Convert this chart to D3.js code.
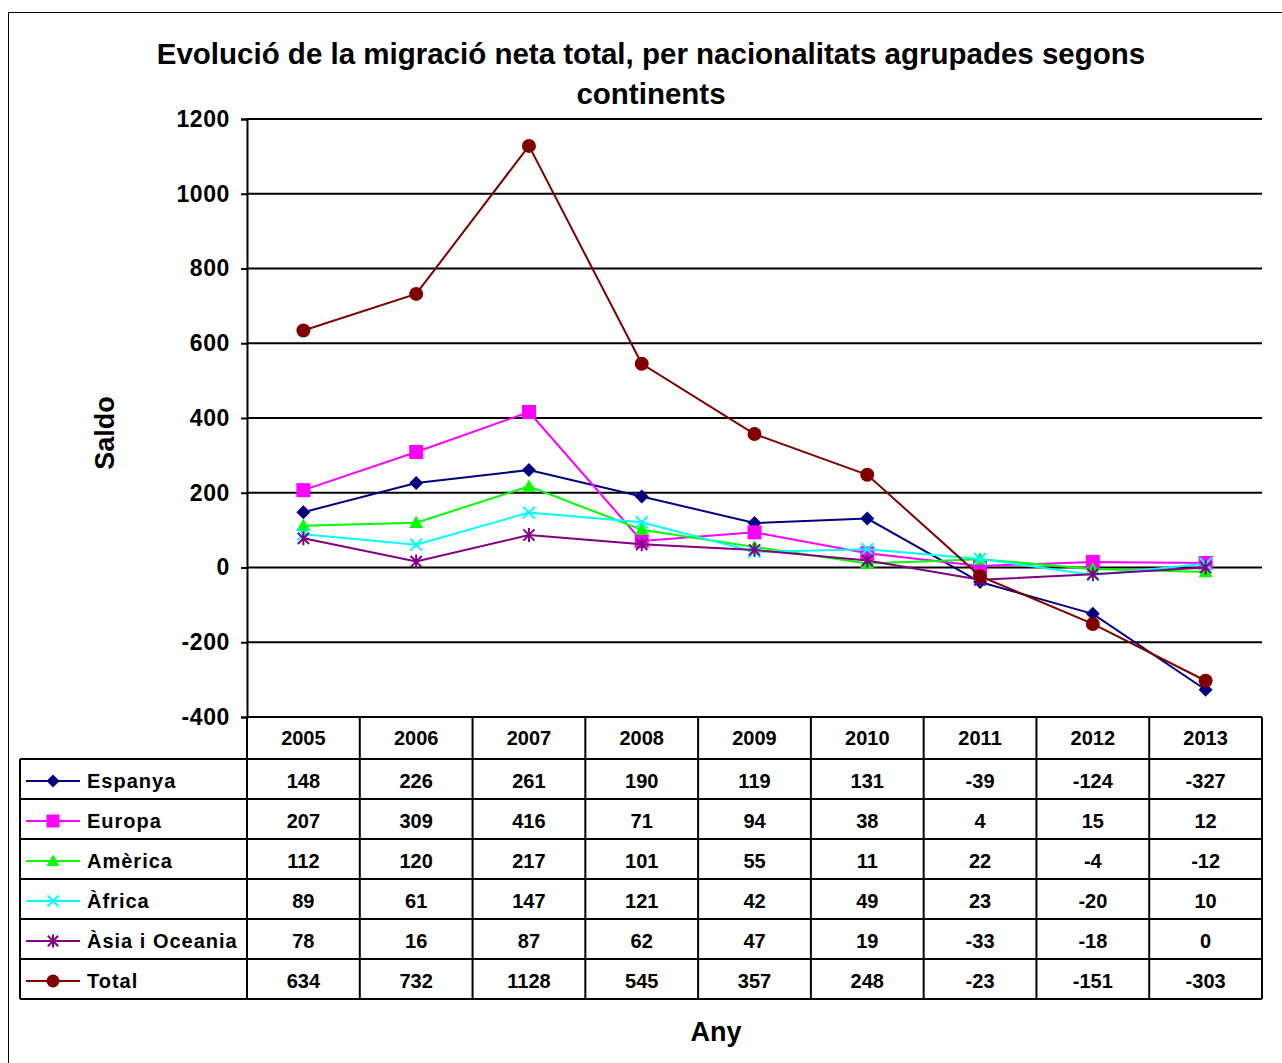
<!DOCTYPE html>
<html>
<head>
<meta charset="utf-8">
<script src="https://cdn.jsdelivr.net/npm/d3@7"></script>
<style>
  body { margin: 0; background: #fff; }
  svg text { font-family: 'Liberation Sans', Arial, sans-serif; font-weight: bold; fill: #000; }
</style>
</head>
<body>
<div id="chart"></div>
<script>
let years = ['2005', '2006', '2007', '2008', '2009', '2010', '2011', '2012', '2013']
let seriesNames = ['Espanya', 'Europa', 'Amèrica', 'Àfrica', 'Àsia i Oceania', 'Total']
let espanya = [148, 226, 261, 190, 119, 131, -39, -124, -327]
let europa = [207, 309, 416, 71, 94, 38, 4, 15, 12]
let america = [112, 120, 217, 101, 55, 11, 22, -4, -12]
let africa = [89, 61, 147, 121, 42, 49, 23, -20, 10]
let asia = [78, 16, 87, 62, 47, 19, -33, -18, 0]
let total = [634, 732, 1128, 545, 357, 248, -23, -151, -303]
let yTicks = [-400, -200, 0, 200, 400, 600, 800, 1000, 1200]

let colors = ['#000080', '#ff00ff', '#00ff00', '#00ffff', '#800080', '#800000']
let markers = ['diamond', 'square', 'triangle', 'x', 'star', 'circle']

let series = [espanya, europa, america, africa, asia, total].map((values, i) => {
  return { name: seriesNames[i], values: values, color: colors[i], marker: markers[i] }
})

let width = 1282
let height = 1063
let plot = { left: 247, right: 1262, top: 119, bottom: 717 }
let legendLeft = 20
let headerBottom = 759
let rowHeight = 40

let svg = d3
  .select('#chart')
  .append('svg')
  .attr('width', width)
  .attr('height', height)

// outer frame
svg
  .append('rect')
  .attr('x', 8.5)
  .attr('y', 12.5)
  .attr('width', 1300)
  .attr('height', 1100)
  .attr('fill', 'none')
  .attr('stroke', '#000')
  .attr('stroke-width', 1)

let xBand = d3.scaleBand().domain(years).range([plot.left, plot.right])
let xPositionScale = d => xBand(d) + xBand.bandwidth() / 2
let yPositionScale = d3.scaleLinear().domain([-400, 1200]).range([plot.bottom, plot.top])

// title
let titleLines = ['Evolució de la migració neta total, per nacionalitats agrupades segons', 'continents']
svg
  .selectAll('.title')
  .data(titleLines)
  .enter()
  .append('text')
  .attr('class', 'title')
  .attr('x', 651)
  .attr('y', (d, i) => 64 + i * 40)
  .attr('text-anchor', 'middle')
  .attr('font-size', 29.5)
  .text(d => d)

// gridlines
svg
  .append('g')
  .selectAll('line')
  .data(yTicks.filter(d => d > -400))
  .enter()
  .append('line')
  .attr('x1', plot.left)
  .attr('x2', plot.right)
  .attr('y1', d => yPositionScale(d))
  .attr('y2', d => yPositionScale(d))
  .attr('stroke', '#000')
  .attr('stroke-width', 2)

// y axis
let yAxis = d3
  .axisLeft(yPositionScale)
  .tickValues(yTicks)
  .tickFormat(d => String(d))
  .tickSize(6)
  .tickPadding(11)
let yAxisG = svg
  .append('g')
  .attr('class', 'axis y-axis')
  .attr('transform', 'translate(' + plot.left + ',0)')
  .call(yAxis)
yAxisG.select('.domain').attr('stroke-width', 2)
yAxisG.selectAll('.tick line').attr('stroke-width', 2)
yAxisG
  .selectAll('.tick text')
  .attr('font-size', 23)
  .attr('letter-spacing', 0.6)
  .attr('font-family', null)
  .attr('fill', '#000')

svg
  .append('text')
  .attr('transform', 'translate(114,433) rotate(-90)')
  .attr('text-anchor', 'middle')
  .attr('font-size', 27)
  .text('Saldo')

svg
  .append('text')
  .attr('x', 716)
  .attr('y', 1041)
  .attr('text-anchor', 'middle')
  .attr('font-size', 27)
  .text('Any')

// data table
let table = svg.append('g').attr('class', 'table')
let tableBottom = headerBottom + rowHeight * series.length
let rowY = i => headerBottom + i * rowHeight

table
  .append('line')
  .attr('x1', plot.left).attr('x2', plot.right)
  .attr('y1', plot.bottom).attr('y2', plot.bottom)
  .attr('stroke', '#000').attr('stroke-width', 2)
table
  .selectAll('.hline')
  .data(d3.range(series.length + 1))
  .enter()
  .append('line')
  .attr('class', 'hline')
  .attr('x1', legendLeft)
  .attr('x2', plot.right)
  .attr('y1', d => rowY(d))
  .attr('y2', d => rowY(d))
  .attr('stroke', '#000')
  .attr('stroke-width', 2)

table
  .selectAll('.vline')
  .data(years.concat(['end']))
  .enter()
  .append('line')
  .attr('class', 'vline')
  .attr('x1', d => (d === 'end' ? plot.right : xBand(d)))
  .attr('x2', d => (d === 'end' ? plot.right : xBand(d)))
  .attr('y1', plot.bottom)
  .attr('y2', tableBottom)
  .attr('stroke', '#000')
  .attr('stroke-width', 2)
table
  .append('line')
  .attr('x1', legendLeft).attr('x2', legendLeft)
  .attr('y1', headerBottom).attr('y2', tableBottom)
  .attr('stroke', '#000').attr('stroke-width', 2)

table
  .selectAll('.year')
  .data(years)
  .enter()
  .append('text')
  .attr('class', 'year')
  .attr('x', d => xPositionScale(d))
  .attr('y', plot.bottom + 28)
  .attr('text-anchor', 'middle')
  .attr('font-size', 20)
  .text(d => d)

function drawMarker(g, type, color, s) {
  let h = s / 2
  if (type === 'diamond') {
    g.append('path')
      .attr('d', `M0,${-h}L${h},0L0,${h}L${-h},0Z`)
      .attr('fill', color)
  } else if (type === 'square') {
    g.append('rect')
      .attr('x', -h).attr('y', -h)
      .attr('width', s).attr('height', s)
      .attr('fill', color)
  } else if (type === 'triangle') {
    g.append('path')
      .attr('d', `M0,${-h}L${h},${h * 0.75}L${-h},${h * 0.75}Z`)
      .attr('fill', color)
  } else if (type === 'x') {
    let k = h * 0.85
    g.append('path')
      .attr('d', `M${-k},${-k}L${k},${k}M${-k},${k}L${k},${-k}`)
      .attr('stroke', color).attr('stroke-width', 2).attr('fill', 'none')
  } else if (type === 'star') {
    let k = h * 0.8
    g.append('path')
      .attr('d', `M${-k},${-k}L${k},${k}M${-k},${k}L${k},${-k}M0,${-h}L0,${h}`)
      .attr('stroke', color).attr('stroke-width', 2).attr('fill', 'none')
  } else {
    g.append('circle').attr('r', h).attr('fill', color)
  }
}

// rows: legend key + values
series.forEach((s, i) => {
  let cy = rowY(i) + rowHeight / 2 + 2
  let key = table.append('g')
  key
    .append('line')
    .attr('x1', 26).attr('x2', 80)
    .attr('y1', cy).attr('y2', cy)
    .attr('stroke', s.color).attr('stroke-width', 2)
  drawMarker(key.append('g').attr('transform', `translate(53,${cy})`), s.marker, s.color, 13)
  key
    .append('text')
    .attr('x', 87)
    .attr('y', cy + 7)
    .attr('font-size', 20)
    .attr('letter-spacing', 1)
    .text(s.name)

  table
    .selectAll('.val-' + i)
    .data(s.values)
    .enter()
    .append('text')
    .attr('x', (d, j) => xPositionScale(years[j]))
    .attr('y', cy + 7)
    .attr('text-anchor', 'middle')
    .attr('font-size', 20)
    .text(d => d)
})

// lines and markers
let line = d3
  .line()
  .x((d, j) => xPositionScale(years[j]))
  .y(d => yPositionScale(d))

series.forEach(s => {
  let g = svg.append('g')
  g.append('path')
    .attr('d', line(s.values))
    .attr('fill', 'none')
    .attr('stroke', s.color)
    .attr('stroke-width', 2)
  s.values.forEach((v, j) => {
    drawMarker(
      g.append('g').attr('transform', `translate(${xPositionScale(years[j])},${yPositionScale(v)})`),
      s.marker,
      s.color,
      14
    )
  })
})
</script>
</body>
</html>
